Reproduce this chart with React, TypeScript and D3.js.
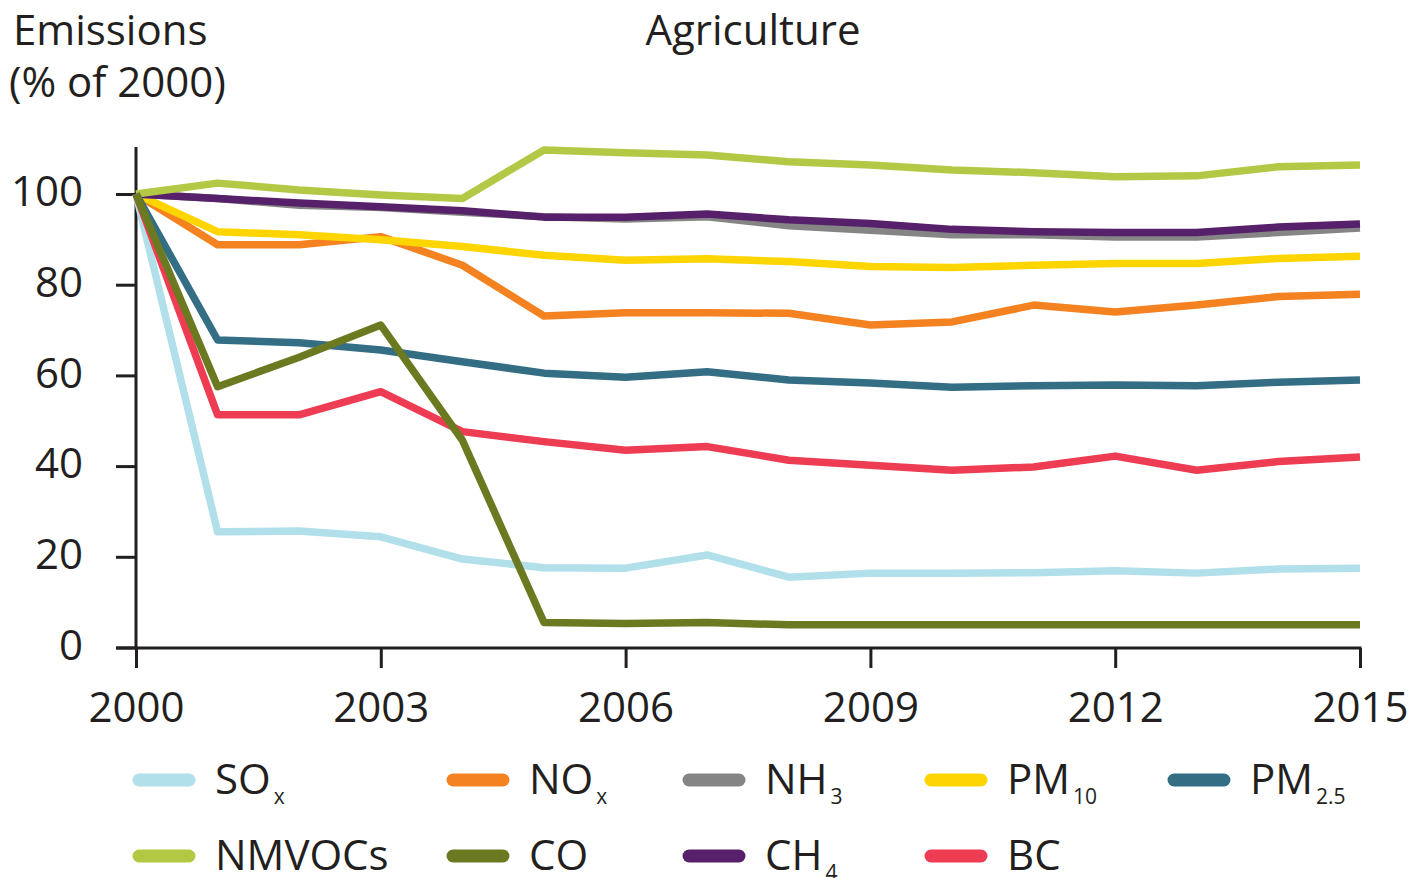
import { useEffect, useRef } from 'react';
import * as d3 from 'd3';

const years = [2000, 2001, 2002, 2003, 2004, 2005, 2006, 2007, 2008, 2009, 2010, 2011, 2012, 2013, 2014, 2015];

const sox = [100, 25.5, 25.7, 24.4, 19.5, 17.6, 17.5, 20.4, 15.5, 16.4, 16.4, 16.5, 16.9, 16.4, 17.3, 17.5];
const nox = [100, 88.8, 88.8, 90.6, 84.3, 73.1, 73.8, 73.8, 73.7, 71.1, 71.8, 75.5, 74, 75.5, 77.4, 77.9];
const nh3 = [100, 99, 97.5, 97, 96, 95, 94.5, 95, 93, 92, 91, 91, 90.5, 90.5, 91.5, 92.5];
const pm10 = [100, 91.7, 91, 89.9, 88.4, 86.5, 85.4, 85.7, 85.1, 84, 83.8, 84.3, 84.7, 84.7, 85.8, 86.3];
const pm25 = [100, 67.8, 67.2, 65.6, 63, 60.5, 59.6, 60.8, 59, 58.3, 57.4, 57.7, 57.9, 57.7, 58.5, 59];
const nmvocs = [100, 102.4, 100.9, 99.8, 99, 109.7, 109.1, 108.6, 107.1, 106.4, 105.3, 104.7, 103.8, 104, 106, 106.4];
const co = [100, 57.5, 64, 71.1, 45.7, 5.5, 5.3, 5.5, 5, 5, 5, 5, 5, 5, 5, 5];
const ch4 = [100, 99, 98, 97.2, 96.3, 94.9, 94.9, 95.6, 94.3, 93.5, 92.2, 91.7, 91.5, 91.5, 92.7, 93.4];
const bc = [100, 51.3, 51.3, 56.4, 47.6, 45.4, 43.5, 44.3, 41.3, 40.2, 39.1, 39.8, 42.2, 39.1, 41, 42];

const yTicks = [0, 20, 40, 60, 80, 100];
const xTicks = [2000, 2003, 2006, 2009, 2012, 2015];

// legend entries: label, subscript, colour
const series = [
  { key: 'SOx', name: 'SO', sub: 'x', values: sox, color: '#b1e0ea' },
  { key: 'NOx', name: 'NO', sub: 'x', values: nox, color: '#f58220' },
  { key: 'NH3', name: 'NH', sub: '3', values: nh3, color: '#858585' },
  { key: 'PM10', name: 'PM', sub: '10', values: pm10, color: '#ffd500' },
  { key: 'PM25', name: 'PM', sub: '2.5', values: pm25, color: '#336e85' },
  { key: 'NMVOCs', name: 'NMVOCs', sub: '', values: nmvocs, color: '#b3c945' },
  { key: 'CO', name: 'CO', sub: '', values: co, color: '#6b7a21' },
  { key: 'CH4', name: 'CH', sub: '4', values: ch4, color: '#57206a' },
  { key: 'BC', name: 'BC', sub: '', values: bc, color: '#ee3d52' },
];

const drawOrder = ['SOx', 'NOx', 'PM10', 'NH3', 'CH4', 'NMVOCs', 'PM25', 'BC', 'CO'];
const legendCols = [133, 447, 683, 925, 1168];
const legendRows = [780, 856];

const ink = '#231f20';
const font = '"Open Sans", sans-serif';
const fs = 42;

const App = () => {
  const ref = useRef(null);

  useEffect(() => {
    document.body.style.margin = '0';
    const svg = d3.select(ref.current);
    svg.selectAll('*').remove();

    const x = d3.scaleLinear().domain([2000, 2015]).range([136, 1360]);
    const y = d3.scaleLinear().domain([0, 100]).range([647.5, 194]);

    // titles
    svg.append('text').attr('x', 13).attr('y', 45).text('Emissions');
    svg.append('text').attr('x', 9).attr('y', 97).text('(% of 2000)');
    svg.append('text').attr('x', 753).attr('y', 45).attr('text-anchor', 'middle').text('Agriculture');

    // y axis
    const yAxis = svg.append('g')
      .attr('transform', 'translate(136,0)')
      .call(d3.axisLeft(y).tickValues(yTicks).tickSize(20).tickPadding(33).tickSizeOuter(0));
    yAxis.select('.domain').remove();
    yAxis.append('line').attr('x1', 0).attr('x2', 0).attr('y1', 147).attr('y2', 649)
      .attr('stroke', ink).attr('stroke-width', 3);

    // x axis
    const xAxis = svg.append('g')
      .attr('transform', 'translate(0,648)')
      .call(d3.axisBottom(x).tickValues(xTicks).tickFormat(d3.format('d')).tickSize(20).tickSizeOuter(0));
    xAxis.select('.domain').remove();
    xAxis.append('line').attr('x1', 116).attr('x2', 1361.5).attr('y1', 0).attr('y2', 0)
      .attr('stroke', ink).attr('stroke-width', 3);

    svg.selectAll('.tick line').attr('stroke', ink).attr('stroke-width', 3);
    svg.selectAll('.tick text').attr('fill', ink).attr('font-size', fs).attr('font-family', font);
    xAxis.selectAll('.tick text').attr('y', 74).attr('dy', 0);
    yAxis.selectAll('.tick text').attr('dy', '0.28em');

    // lines
    const line = d3.line()
      .x((d, i) => x(years[i]))
      .y(d => y(d));

    const lines = svg.append('g').attr('fill', 'none').attr('stroke-width', 7.5)
      .attr('stroke-linejoin', 'round');
    drawOrder.forEach(k => {
      const s = series.find(d => d.key === k);
      lines.append('path').attr('d', line(s.values)).attr('stroke', s.color);
    });

    // legend
    const legend = svg.append('g');
    series.forEach((s, i) => {
      const row = i < 5 ? 0 : 1;
      const col = i < 5 ? i : i - 5;
      const lx = legendCols[col];
      const ly = legendRows[row];
      legend.append('line')
        .attr('x1', lx + 6).attr('x2', lx + 56).attr('y1', ly).attr('y2', ly)
        .attr('stroke', s.color).attr('stroke-width', 13).attr('stroke-linecap', 'round');
      const t = legend.append('text').attr('x', lx + 82).attr('y', ly + 14);
      t.append('tspan').text(s.name);
      if (s.sub) {
        t.append('tspan').attr('font-size', 21).attr('dy', 10).attr('dx', 3).text(s.sub);
      }
    });

    svg.selectAll('text').filter(function () { return !this.getAttribute('font-size'); })
      .attr('font-size', fs);
    svg.selectAll('text').attr('font-family', font).attr('fill', ink);
  }, []);

  return <svg ref={ref} width={1418} height={878} style={{ display: 'block' }} />;
};

export default App;
